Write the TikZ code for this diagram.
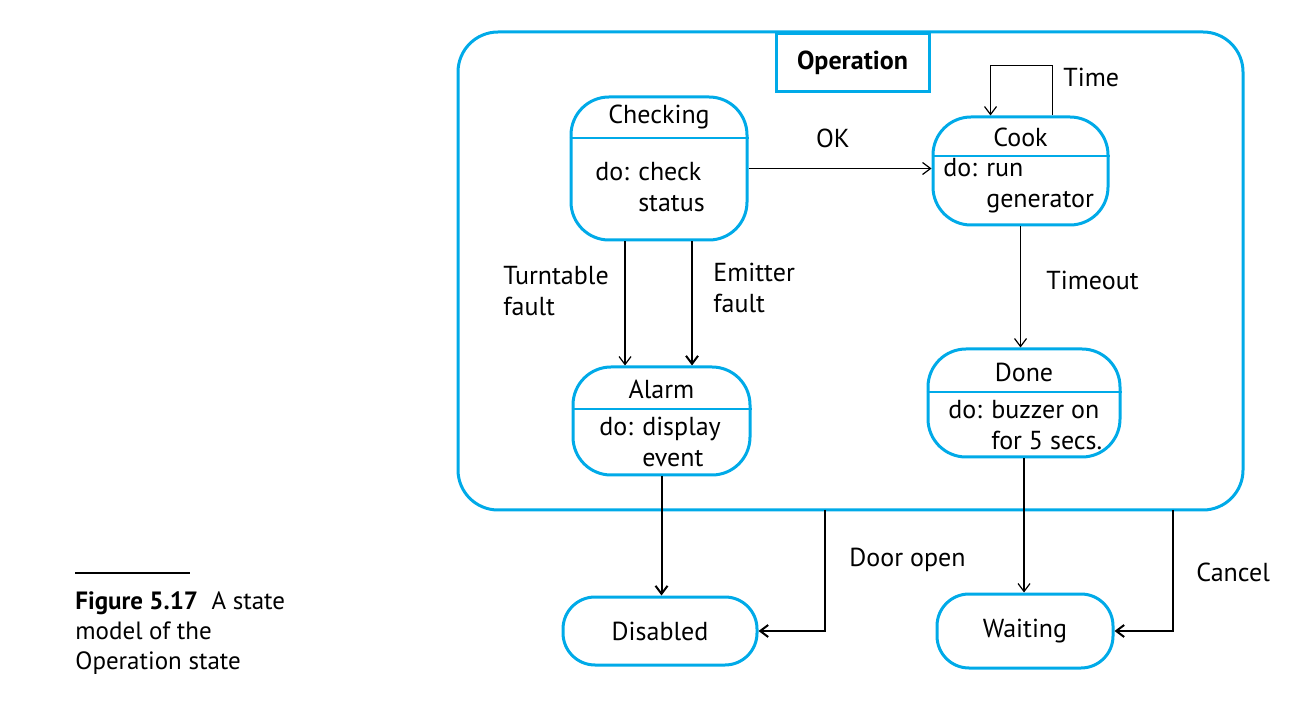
\documentclass[tikz,border=0pt]{standalone}
\usepackage{fontspec}
\setmainfont{PT Sans}
\usetikzlibrary{arrows.meta}
\definecolor{opblue}{RGB}{0,170,232}
\tikzset{
  state/.style={draw=opblue, line width=1.5pt, rounded corners=19pt, inner sep=0pt},
  simple/.style={state, rounded corners=16pt},
  divider/.style={draw=opblue, line width=0.6pt},
  trans/.style={->, line width=0.6pt},
  heavy/.style={line width=1pt},
  lbl/.style={align=left, inner sep=0pt, anchor=west},
}
\begin{document}
\begin{tikzpicture}[x=0.5pt, y=-0.5pt, >={Straight Barb[length=4pt,width=6pt]},
    every node/.style={font=\fontsize{13pt}{15.5pt}\selectfont}]
  \useasboundingbox (0,0) rectangle (1294,704);
  % Superstate
  \draw[opblue, line width=1.5pt, rounded corners=20pt] (458,32) rectangle (1243,510);
  \node[draw=opblue, line width=1.5pt, minimum width=76.5pt, minimum height=29pt, anchor=north]
    (op) at (852.5,32) {\textbf{Operation}};
  % States
  \node[state, minimum width=88pt, minimum height=71.5pt] (chk) at (659,168.5) {};
  \node[state, minimum width=87.5pt, minimum height=54pt] (cook) at (1020.5,171) {};
  \node[state, minimum width=88.5pt, minimum height=54pt] (alarm) at (661.5,421) {};
  \node[state, minimum width=96pt, minimum height=54pt] (done) at (1024,403) {};
  \node[simple, minimum width=97pt, minimum height=34pt] (dis) at (660,631) {Disabled};
  \node[simple, minimum width=88pt, minimum height=37pt] (wait) at (1025,631) {Waiting};
  % Dividers
  \draw[divider] (chk.west |- 0,138) -- (chk.east |- 0,138);
  \draw[divider] (cook.west |- 0,156) -- (cook.east |- 0,156);
  \draw[divider] (alarm.west |- 0,409) -- (alarm.east |- 0,409);
  \draw[divider] (done.west |- 0,392) -- (done.east |- 0,392);
  % State texts
  \node (chkname) at (659,117) {Checking};
  \node[lbl] (chkdo) at (595,187.5) {do: check\\\phantom{do: }status};
  \node (cookname) at (1020.5,137) {Cook};
  \node[lbl] (cookdo) at (943,185.5) {do: run\\\phantom{do: }generator};
  \node (alarmname) at (661.5,389) {Alarm};
  \node[lbl] (alarmdo) at (599,442) {do: display\\\phantom{do: }event};
  \node (donename) at (1024,372) {Done};
  \node[lbl] (donedo) at (948,425.5) {do: buzzer on\\\phantom{do: }for 5 secs.};
  % Transitions
  \draw[trans] (chk.east) -- (chk.east -| cook.west);
  \draw[trans] ([xshift=-17pt]chk.south) -- ([xshift=-17pt]chk.south |- alarm.north);
  \draw[trans, heavy] ([xshift=16.5pt]chk.south) -- ([xshift=16.5pt]chk.south |- alarm.north);
  \draw[trans] ([xshift=16pt]cook.north) -- ++(0,-50) -| ([xshift=-15pt]cook.north);
  \draw[trans] (cook.south) -- (cook.south |- done.north);
  \draw[trans, heavy] (alarm.south) -- (alarm.south |- dis.north);
  \draw[trans] (done.south) -- (done.south |- wait.north);
  \coordinate (door) at (825,510);
  \coordinate (cancel) at (1173,510);
  \draw[trans, heavy] (door) |- (dis.east);
  \draw[trans, heavy] (cancel) |- (wait.east);
  % Labels
  \node (ok) at (833,138) {OK};
  \node[lbl] (time) at (1063,77) {Time};
  \node[lbl] (turn) at (503,291.5) {Turntable\\fault};
  \node[lbl] (emit) at (713,287.5) {Emitter\\fault};
  \node[lbl] (tout) at (1046,280) {Timeout};
  \node[lbl] (dopen) at (849,560) {Door open};
  \node[lbl] (canc) at (1196,572) {Cancel};
  % Caption
  \draw[line width=0.8pt] (75,573) -- (190,573);
  \node[lbl, font=\fontsize{12.5pt}{15pt}\selectfont] (cap) at (75,633)
    {\textbf{Figure 5.17}\ \ A state\\model of the\\Operation state};
\end{tikzpicture}
\end{document}
